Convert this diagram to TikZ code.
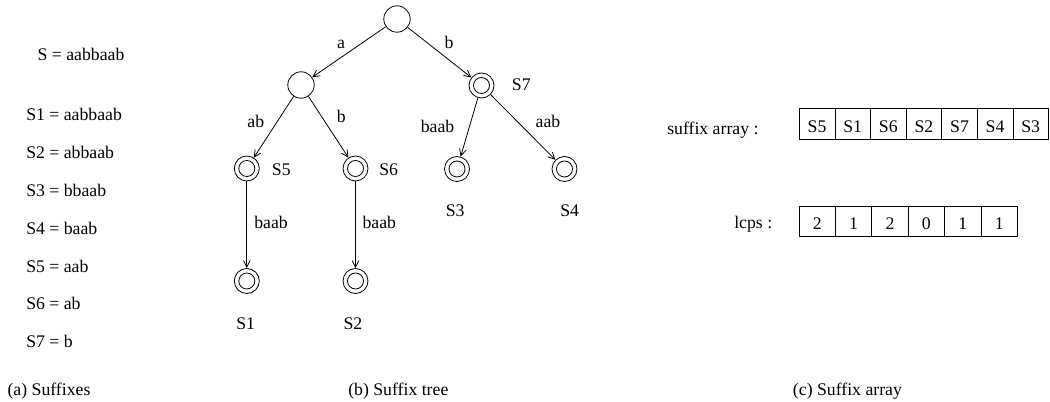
\documentclass[tikz,border=0pt]{standalone}
\usepackage{fontspec}
\setmainfont{Liberation Serif}
\usetikzlibrary{arrows.meta}
\begin{document}
\begin{tikzpicture}[x=0.75pt,y=-0.75pt,
  every node/.style={font=\fontsize{13.3pt}{16pt}\selectfont, inner sep=0pt},
  txt/.style={anchor=base west},
  ctxt/.style={anchor=base},
  plainnode/.style={circle, draw, line width=0.6pt, minimum size=19.8pt},
  leafnode/.style={circle, draw, line width=0.6pt, minimum size=18.75pt,
    path picture={\draw[line width=0.6pt] (path picture bounding box.center) circle (6pt);}},
  treeedge/.style={line width=0.6pt, -{Straight Barb[length=5pt,width=5pt]}},
  sacell/.style={rectangle, draw, line width=0.6pt, minimum width=26.7pt, minimum height=23.4pt, text height=13.5pt, text depth=0.5pt},
  lccell/.style={rectangle, draw, line width=0.6pt, minimum width=27.3pt, minimum height=22pt, text height=12.5pt, text depth=0.5pt}
]
\useasboundingbox (0,0) rectangle (1050,402);

% (a) suffixes
\node[txt] (s) at (37.3,60.7) {S = aabbaab};
\foreach \t [count=\i] in {aabbaab,abbaab,bbaab,baab,aab,ab,b}
  \node[txt] (suf\i) at (26,{121+37.8*(\i-1)}) {S\i{} = \t};

% (b) suffix tree
\node[plainnode] (root) at (397,19) {};
\node[plainnode] (na) at (301,85) {};
\node[leafnode] (nb) at (481.5,85.5) {};
\node[leafnode] (n5) at (246.8,168.5) {};
\node[leafnode] (n6) at (355.5,168.5) {};
\node[leafnode] (n3) at (457,169) {};
\node[leafnode] (n4) at (564.5,169) {};
\node[leafnode] (n1) at (246.8,281) {};
\node[leafnode] (n2) at (355.5,281) {};

\draw[treeedge] (root) -- (na);
\draw[treeedge] (root) -- (nb);
\draw[treeedge] (na) -- (n5);
\draw[treeedge] (na) -- (n6);
\draw[treeedge] (nb) -- (n3);
\draw[treeedge] (nb) -- (n4);
\draw[treeedge] (n5) -- (n1);
\draw[treeedge] (n6) -- (n2);

\node[ctxt] (la) at (341,48.3) {a};
\node[ctxt] (lb) at (449,48.3) {b};
\node[ctxt] (lab) at (255.8,127.3) {ab};
\node[ctxt] (lb2) at (341.2,122.7) {b};
\node[ctxt] (lbaab) at (437.5,132.7) {baab};
\node[ctxt] (laab) at (548,127.3) {aab};
\node[txt] (lbaab1) at (254,228.3) {baab};
\node[txt] (lbaab2) at (362.3,228.3) {baab};

\node[txt] (t7) at (511.7,91) {S7};
\node[txt] (t5) at (271.7,176) {S5};
\node[txt] (t6) at (379,176) {S6};
\node[txt] (t3) at (445.5,216.7) {S3};
\node[txt] (t4) at (560,216.7) {S4};
\node[txt] (t1) at (236,330) {S1};
\node[txt] (t2) at (343.3,330) {S2};

% (c) suffix array
\node[txt] (salabel) at (667,134.3) {suffix array :};
\foreach \t [count=\i] in {S5,S1,S6,S2,S7,S4,S3}
  \node[sacell] (sa\i) at ({799.3+35.6*(\i-0.5)},123.7) {\t};
\node[txt] (lclabel) at (734,229) {lcps :};
\foreach \t [count=\i] in {2,1,2,0,1,1}
  \node[lccell] (lc\i) at ({799+36.4*(\i-0.5)},221.3) {\t};

% captions
\node[txt] (capa) at (7.3,396) {(a) Suffixes};
\node[txt] (capb) at (348,396) {(b) Suffix tree};
\node[txt] (capc) at (792.7,396) {(c) Suffix array};
\end{tikzpicture}
\end{document}
